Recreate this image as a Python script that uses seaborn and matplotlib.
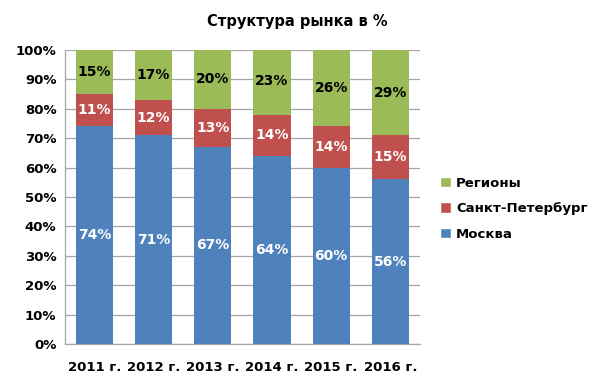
import matplotlib
matplotlib.use("Agg")
import matplotlib.pyplot as plt
import seaborn as sns
import numpy as np
import pandas as pd
from matplotlib.patches import Patch

years = ["2011 г.", "2012 г.", "2013 г.", "2014 г.", "2015 г.", "2016 г."]
moscow = [74, 71, 67, 64, 60, 56]
spb = [11, 12, 13, 14, 14, 15]
regions = [15, 17, 20, 23, 26, 29]

c_msk = "#4F81BD"
c_spb = "#C0504D"
c_reg = "#9BBB59"

sns.set_theme(style="white")
plt.rcParams['font.family'] = ['DejaVu Sans']
plt.rcParams['text.color'] = 'black'
plt.rcParams['xtick.color'] = 'black'
plt.rcParams['ytick.color'] = 'black'

fig = plt.figure(figsize=(5.94, 3.9), dpi=100)
ax = fig.add_axes([0.109, 0.118, 0.598, 0.754])

msk = np.array(moscow)
sp = np.array(spb)
rg = np.array(regions)
df = pd.DataFrame({"year": years, "msk": msk, "msk_spb": msk + sp, "total": msk + sp + rg})

for col, color in [("total", c_reg), ("msk_spb", c_spb), ("msk", c_msk)]:
    sns.barplot(data=df, x="year", y=col, color=color, width=0.63, ax=ax,
                saturation=1, linewidth=0, zorder=3)

lab_fs = 10
for i in range(len(years)):
    ax.text(i, msk[i] / 2, f"{msk[i]}%", ha="center", va="center", color="white",
            fontsize=lab_fs, fontweight="bold", zorder=5)
    ax.text(i, msk[i] + sp[i] / 2, f"{sp[i]}%", ha="center", va="center", color="white",
            fontsize=lab_fs, fontweight="bold", zorder=5)
    ax.text(i, msk[i] + sp[i] + rg[i] / 2, f"{rg[i]}%", ha="center", va="center", color="black",
            fontsize=lab_fs, fontweight="bold", zorder=5)

ax.set_ylim(0, 100)
ax.set_xlim(-0.5, len(years) - 0.5)
ax.set_yticks(range(0, 101, 10))
ax.set_yticklabels([f"{v}%" for v in range(0, 101, 10)])
ax.yaxis.grid(True, color="#A6A6A6", linewidth=0.9, zorder=0)
ax.set_axisbelow(True)
ax.set_xlabel("")
ax.set_ylabel("")
for s in ["top", "right"]:
    ax.spines[s].set_visible(False)
for s in ["left", "bottom"]:
    ax.spines[s].set_color("#A6A6A6")
    ax.spines[s].set_linewidth(0.9)
ax.tick_params(axis="both", labelsize=9.5, length=0, pad=6, labelcolor="black")
for lab in ax.get_xticklabels() + ax.get_yticklabels():
    lab.set_fontweight("bold")
    lab.set_color("black")
ax.tick_params(axis="x", pad=12)

fig.text(0.5, 0.945, "Структура рынка в %", ha="center", va="center",
         fontsize=10.5, fontweight="bold", color="black")

handles = [Patch(facecolor=c_reg, label="Регионы"),
           Patch(facecolor=c_spb, label="Санкт-Петербург"),
           Patch(facecolor=c_msk, label="Москва")]
leg = fig.legend(handles=handles, loc="center left", bbox_to_anchor=(0.72, 0.465),
                 frameon=False, prop={"weight": "bold", "size": 9.5},
                 handlelength=0.85, handleheight=0.85, handletextpad=0.4, labelspacing=0.95)
for t in leg.get_texts():
    t.set_color("black")

fig.savefig("out.png", dpi=100)
